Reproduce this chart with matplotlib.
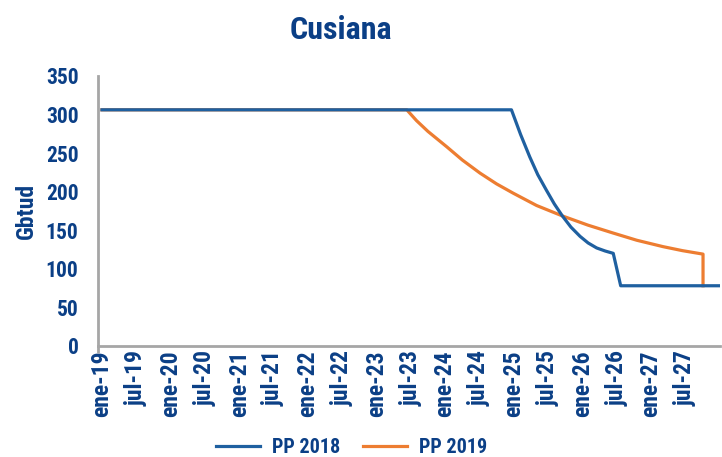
import matplotlib
matplotlib.use("Agg")
import matplotlib.pyplot as plt
from matplotlib import font_manager

# month index 0 = ene-19
tick_labels = ["ene-19", "jul-19", "ene-20", "jul-20", "ene-21", "jul-21",
               "ene-22", "jul-22", "ene-23", "jul-23", "ene-24", "jul-24",
               "ene-25", "jul-25", "ene-26", "jul-26", "ene-27", "jul-27"]
tick_pos = [6 * i for i in range(len(tick_labels))]

pp2018_m = [0, 71.6, 72.5, 73.2, 74.8, 76.2, 77.7, 79.1, 80.5, 82.0, 83.6, 85.0, 86.5, 88.0, 89.4, 90.7, 108]
pp2018_v = [306, 306, 288, 274, 245, 222, 202, 184, 168.5, 154, 142, 133.5, 127, 123, 120, 78, 78]

pp2019_m = [0, 53.3, 55.0, 57.0, 60.3, 63.0, 66.1, 69.0, 71.9, 76.0, 80.5, 85.0, 89.3, 93.5, 98.1, 101.5, 105.1, 105.1]
pp2019_v = [306, 306, 292, 278, 258, 241, 224, 210, 198, 182, 168.5, 156.5, 146.5, 137, 128.7, 123.5, 119, 78]

# pick a narrow bold face if one is installed
fonts = font_manager.fontManager.ttflist
names = {f.name for f in fonts}
stretch = "normal"
fam = None
for cand in ["Liberation Sans Narrow", "Arial Narrow", "Roboto Condensed",
             "Open Sans Condensed", "Noto Sans Condensed"]:
    if cand in names:
        fam = cand
        break
if fam is None:
    if any(f.name == "DejaVu Sans" and f.stretch == "condensed" for f in fonts):
        fam, stretch = "DejaVu Sans", "condensed"
    elif "Roboto" in names:
        fam = "Roboto"
    else:
        fam = "Liberation Sans"

plt.rcParams["font.family"] = [fam, "DejaVu Sans"]
plt.rcParams["font.weight"] = "bold"
plt.rcParams["font.stretch"] = stretch

txt = "#0B3F86"
grey = "#A6A6A6"

fig = plt.figure(figsize=(7.22, 4.57), dpi=100)
ax = fig.add_axes([0.1357, 0.243, 0.861, 0.591])

ax.plot(pp2019_m, pp2019_v, color="#ED7D31", lw=2.3, label="PP 2019", zorder=2)
ax.plot(pp2018_m, pp2018_v, color="#1F60A0", lw=2.3, label="PP 2018", zorder=3)

ax.set_xlim(-0.7, 108)
ax.set_ylim(0, 350)
ax.set_yticks(range(0, 351, 50))
ax.set_xticks(tick_pos)
ax.set_xticklabels(tick_labels, rotation=90)
ax.tick_params(axis="both", length=0, labelcolor=txt)
ax.tick_params(axis="y", pad=14, labelsize=15.5)
ax.tick_params(axis="x", pad=3, labelsize=17)

# small corner ticks at the origin only
ax.set_xticks([-0.7], minor=True)
ax.set_yticks([0], minor=True)
ax.tick_params(which="minor", length=5, width=2, color=grey)

for s in ["top", "right"]:
    ax.spines[s].set_visible(False)
for s in ["left", "bottom"]:
    ax.spines[s].set_color(grey)
    ax.spines[s].set_linewidth(2)

ax.set_ylabel("Gbtud", color=txt, fontsize=17, fontweight="bold", labelpad=6)

fig.text(0.472, 0.934, "Cusiana", ha="center", va="center", color=txt,
         fontsize=23, fontweight="bold")

h, l = ax.get_legend_handles_labels()
fig.legend(h[::-1], l[::-1], loc="center", bbox_to_anchor=(0.487, 0.02), ncol=2,
           frameon=False, fontsize=14.5, handlelength=2.2, handletextpad=0.6,
           columnspacing=1.1, labelcolor=txt)

fig.savefig("out.png", dpi=100)
